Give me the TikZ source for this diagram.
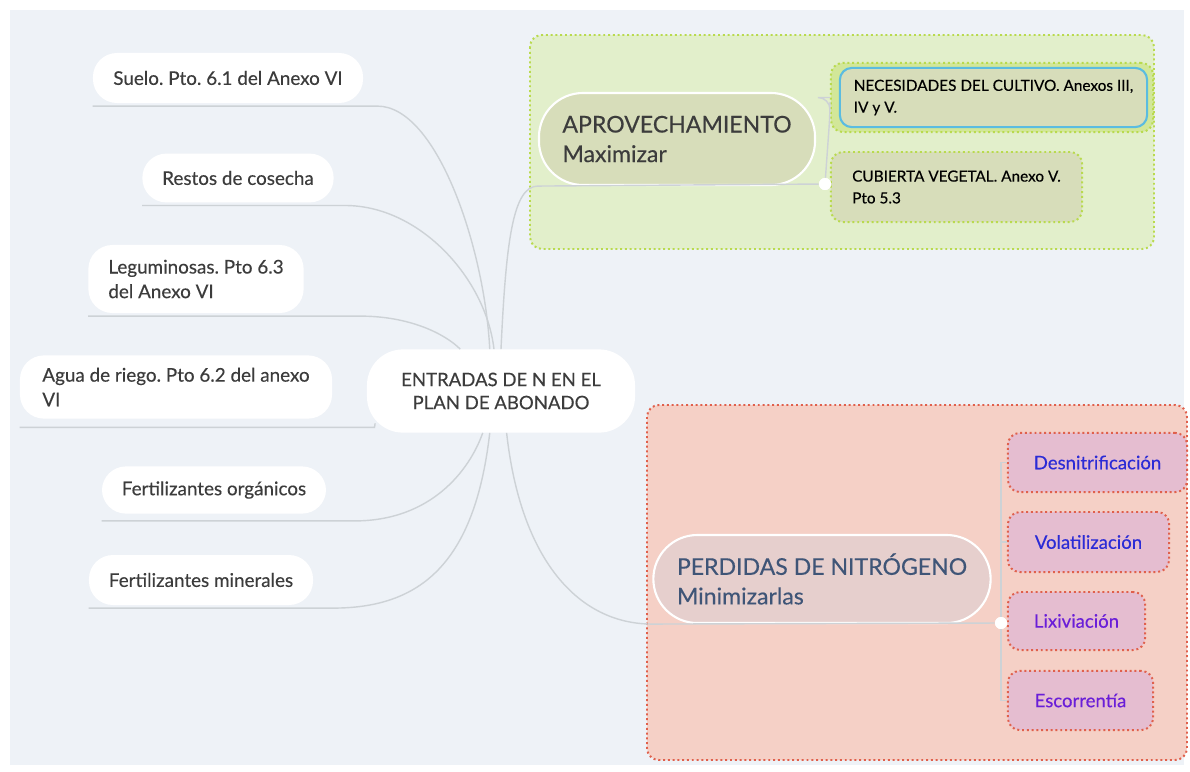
\documentclass[tikz,border=0pt]{standalone}
\usepackage{fontspec}
\setmainfont{Lato}[FakeBold=0.3]
\usetikzlibrary{positioning}
\definecolor{bgcol}{HTML}{EEF2F7}
\definecolor{linecol}{HTML}{CDD2D6}
\definecolor{txtcol}{HTML}{3C3C3C}
\definecolor{greenfill}{HTML}{E2EFCB}
\definecolor{greenline}{HTML}{B9DA4E}
\definecolor{aprovfill}{HTML}{D7DDBA}
\definecolor{necline}{HTML}{5BBCE0}
\definecolor{redfill}{HTML}{F5D0C6}
\definecolor{redline}{HTML}{E0604C}
\definecolor{perdfill}{HTML}{E6CFCD}
\definecolor{perdtxt}{HTML}{3F5577}
\definecolor{pinkfill}{HTML}{E5BDD0}
\definecolor{bluetxt}{HTML}{2B2BD6}
\definecolor{purpletxt}{HTML}{6A1ED8}
\frenchspacing

\begin{document}
\begin{tikzpicture}[x=0.025cm, y=-0.025cm,
    pill/.style={fill=white, rounded corners=0.6cm, inner sep=0pt, align=left,
        text=txtcol, font=\fontsize{13.4}{17.5}\selectfont},
    topic/.style={draw=white, line width=1.5pt, rounded corners=1.1cm, inner sep=0pt,
        align=left, font=\fontsize{16.4}{21}\selectfont},
    subbox/.style={draw=greenline, dotted, line width=1.4pt, fill=aprovfill,
        rounded corners=0.3cm, inner sep=0pt, align=left, text=black,
        font=\fontsize{10.9}{15.5}\selectfont},
    loss/.style={draw=redline, dotted, line width=1.4pt, fill=pinkfill,
        rounded corners=0.3cm, inner sep=0pt, font=\fontsize{13.2}{15}\selectfont},
    knot/.style={circle, fill=white, inner sep=0pt, minimum size=0.3cm},
    link/.style={draw=linecol, line width=1pt}]

    \useasboundingbox (0,0) rectangle (1190,771);
    \fill[white] (0,0) rectangle (1190,771);
    \fill[bgcol] (10,10) rectangle (1184,765);

    \draw[greenline, fill=greenfill, dotted, line width=1.4pt, rounded corners=0.3cm] (530,35) rectangle (1154,249);
    \draw[redline, fill=redfill, dotted, line width=1.4pt, rounded corners=0.3cm] (647,405) rectangle (1187,760);

    \node[pill, minimum width=6.75cm, minimum height=1.25cm] (suelo) at (228,78) {Suelo. Pto. 6.1 del Anexo VI};
    \node[pill, minimum width=4.78cm, minimum height=1.22cm] (restos) at (238,178) {Restos de cosecha};
    \node[pill, minimum width=5.38cm, minimum height=1.7cm] (legum) at (196,279) {Leguminosas. Pto 6.3\\del Anexo VI};
    \node[pill, minimum width=7.8cm, minimum height=1.58cm] (agua) at (176,387) {Agua de riego. Pto 6.2 del anexo\\VI};
    \node[pill, minimum width=6.7cm, minimum height=2.08cm, rounded corners=0.9cm, align=center,
        font=\fontsize{13.2}{16.4}\selectfont] (root) at (501,391) {ENTRADAS DE N EN EL\\PLAN DE ABONADO};
    \node[pill, minimum width=5.6cm, minimum height=1.18cm] (forg) at (214,490) {Fertilizantes orgánicos};
    \node[pill, minimum width=5.6cm, minimum height=1.25cm] (fmin) at (201,580) {Fertilizantes minerales};

    \node[topic, fill=aprovfill, text=txtcol, minimum width=6.9cm, minimum height=2.3cm] (aprov) at (677,139) {APROVECHAMIENTO\\Maximizar};
    \node[subbox, fill=greenfill!60!greenline, minimum width=8.05cm, minimum height=1.73cm] (necframe) at (992,97.5) {};
    \node[subbox, draw=necline, solid, line width=1.5pt, minimum width=7.68cm, minimum height=1.48cm] (neces) at (993.5,97.5) {NECESIDADES DEL CULTIVO. Anexos III,\\IV y V.};
    \node[subbox, minimum width=6.28cm, minimum height=1.75cm] (cubierta) at (956.5,187) {CUBIERTA VEGETAL. Anexo V.\\Pto 5.3};

    \node[topic, fill=perdfill, text=perdtxt, minimum width=8.43cm, minimum height=2.2cm] (perd) at (822,579) {PERDIDAS DE NITRÓGENO\\Minimizarlas};
    \node[loss, text=bluetxt, minimum width=4.48cm, minimum height=1.48cm] (desn) at (1097.5,462.5) {Desnitrificación};
    \node[loss, text=bluetxt, minimum width=4.03cm, minimum height=1.5cm] (volat) at (1088.5,542) {Volatilización};
    \node[loss, text=purpletxt, minimum width=3.43cm, minimum height=1.45cm] (lixiv) at (1076.5,621) {Lixiviación};
    \node[loss, text=purpletxt, minimum width=3.63cm, minimum height=1.48cm] (escor) at (1080.5,700.5) {Escorrentía};

    \draw[link] ([yshift=-2pt]suelo.south west) -- ([yshift=-2pt,xshift=10pt]suelo.south east)
        .. controls +(60,0) and +(-5,-100) .. ([xshift=-8pt]root.north);
    \draw[link] ([yshift=-2pt]restos.south west) -- ([yshift=-2pt,xshift=8pt]restos.south east)
        .. controls +(75,0) and +(-8,-70) .. ([xshift=-5pt]root.north);
    \draw[link] ([yshift=-2pt]legum.south west) -- ([yshift=-2pt,xshift=40pt]legum.south east)
        .. controls +(50,0) and +(-15,-15) .. ([xshift=-29pt]root.north);
    \draw[link] ([yshift=-6pt]agua.south west) -- ([yshift=-6pt,xshift=30pt]agua.south east) -- ([xshift=6pt,yshift=-23pt]root.west);
    \draw[link] ([yshift=-5pt]forg.south west) -- ([yshift=-5pt,xshift=20pt]forg.south east)
        .. controls +(77,0) and +(-13,37) .. ([xshift=-13pt]root.south);
    \draw[link] ([yshift=-2pt]fmin.south west) -- ([yshift=-2pt,xshift=14pt]fmin.south east)
        .. controls +(88,0) and +(-15,130) .. ([xshift=-8pt]root.south);

    \node[knot] (aknot) at (825,184) {};
    \node[knot] (pknot) at (1001,623) {};
    \draw[link] (root.north) .. controls +(5,-108) and +(-25,0) .. (aprov.south west) -- (aknot);
    \draw[link] ([xshift=4pt]root.south) .. controls +(14,127) and +(-74,0) .. (perd.south west) -- (pknot);

    \draw[link, rounded corners=0.3cm] (aknot) -- ++(5,-70) |- (necframe.west);
    \draw[link] (aknot) -- (cubierta.west);
    \draw[link] (pknot) |- (desn.west);
    \draw[link] (pknot) |- (volat.west);
    \draw[link] (pknot) -- (lixiv.west);
    \draw[link] (pknot) |- (escor.west);
    \node[knot] at (aknot) {};
    \node[knot] at (pknot) {};
\end{tikzpicture}
\end{document}
